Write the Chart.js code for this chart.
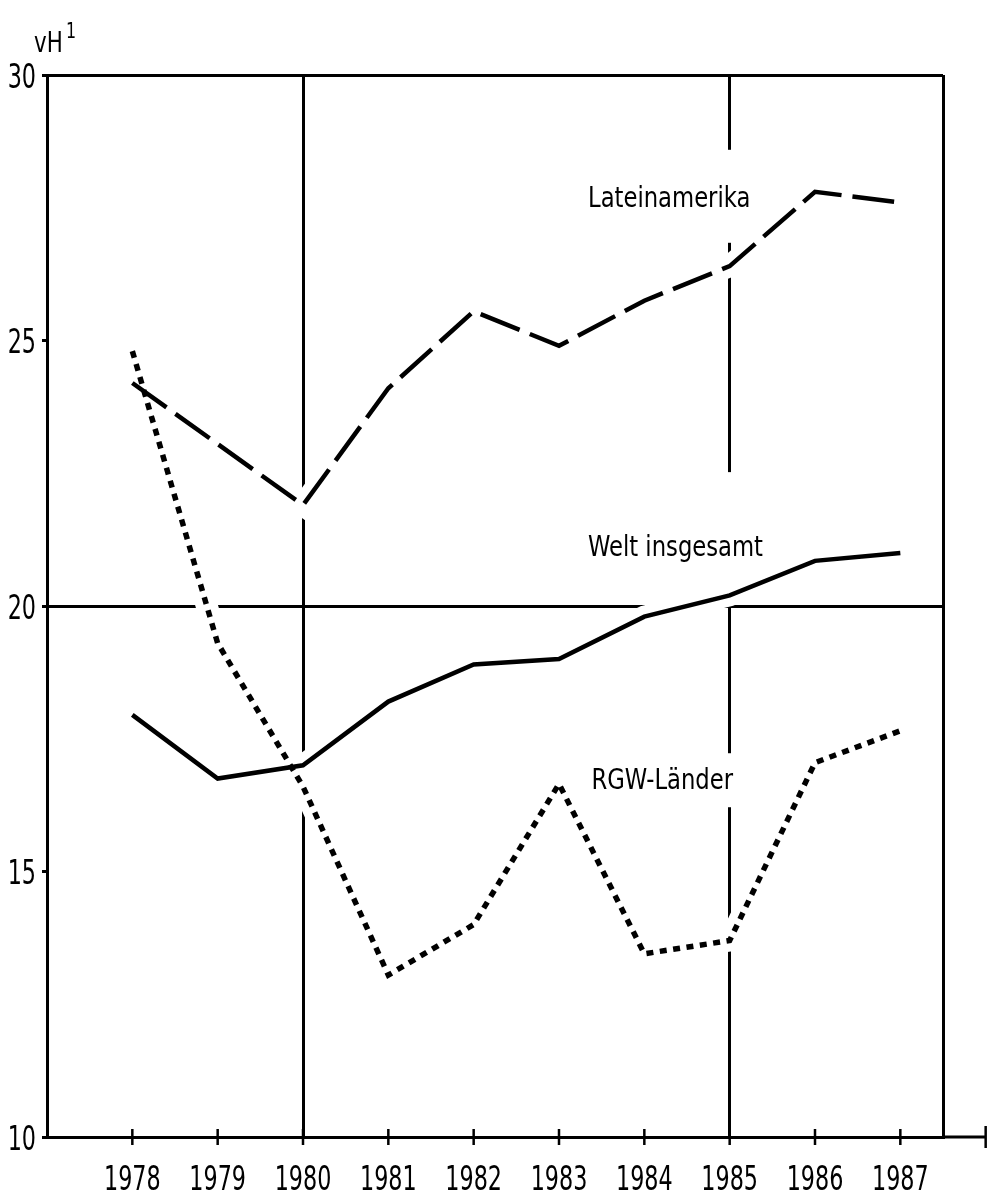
<!DOCTYPE html>
<html>
<head>
<meta charset="utf-8">
<title>vH - Lateinamerika, Welt insgesamt, RGW-Länder</title>
<script src="https://cdn.jsdelivr.net/npm/chart.js@4.4.0/dist/chart.umd.min.js"></script>
<style>
    body { margin: 0; background: #fff; }
    #wrap { width: 992px; height: 1200px; }
</style>
</head>
<body>
<div id="wrap"><canvas id="chart" width="992" height="1200"></canvas></div>
<script>
// values (vH)
var years = [1978, 1979, 1980, 1981, 1982, 1983, 1984, 1985, 1986, 1987];
var lateinamerika = [24.2, 23.05, 21.9, 24.1, 25.55, 24.9, 25.75, 26.4, 27.8, 27.6];
var welt = [17.95, 16.75, 17.0, 18.2, 18.9, 19.0, 19.8, 20.2, 20.85, 21.0];
var rgw = [24.8, 19.3, 16.6, 13.05, 14.0, 16.65, 13.45, 13.7, 17.05, 17.65];

var yTicks = [10, 15, 20, 25, 30];
var yGridAt = [20, 30];
var xGridAt = [1980, 1985, 1987.5];

var FONT = "'DejaVu Sans Condensed', 'DejaVu Sans', sans-serif";

function points(vals) {
    return years.map(function (y, i) { return { x: y, y: vals[i] }; });
}

// series names drawn inside the plot, anchored in data units
var seriesLabels = [
    { text: 'Lateinamerika', x: 1983.34, y: 27.65, padTop: 50, padBottom: 43 },
    { text: 'Welt insgesamt', x: 1983.34, y: 21.09, padTop: 76, padBottom: 40 },
    { text: 'RGW-Länder', x: 1983.38, y: 16.7, padTop: 28, padBottom: 26 }
];

// the original lettering is tall and narrow, so squeeze it sideways
function drawText(ctx, text, x, y, size, align, sx) {
    ctx.save();
    ctx.font = size + 'px ' + FONT;
    ctx.textAlign = align;
    ctx.translate(x, y);
    ctx.scale(sx, 1);
    ctx.fillText(text, 0, 0);
    ctx.restore();
}

var extras = {
    id: 'extras',
    beforeDatasetsDraw: function (chart) {
        // white boxes behind the labels cut the grid lines
        var ctx = chart.ctx, xs = chart.scales.x, ys = chart.scales.y;
        ctx.save();
        ctx.font = '29px ' + FONT;
        ctx.fillStyle = '#fff';
        seriesLabels.forEach(function (l) {
            var px = xs.getPixelForValue(l.x), py = ys.getPixelForValue(l.y);
            var w = ctx.measureText(l.text).width * 0.87;
            ctx.fillRect(px - 8, py - l.padTop, w + 16, l.padTop + l.padBottom);
        });
        ctx.restore();
    },
    afterDraw: function (chart) {
        var ctx = chart.ctx, xs = chart.scales.x, ys = chart.scales.y;
        var area = chart.chartArea;
        ctx.save();
        ctx.fillStyle = '#000';
        ctx.textBaseline = 'middle';
        seriesLabels.forEach(function (l) {
            drawText(ctx, l.text, xs.getPixelForValue(l.x), ys.getPixelForValue(l.y), 29, 'left', 0.87);
        });

        // tick labels
        years.forEach(function (yr) {
            drawText(ctx, String(yr), xs.getPixelForValue(yr), area.bottom + 44, 33, 'center', 0.75);
        });
        yTicks.forEach(function (v) {
            drawText(ctx, String(v), 36, ys.getPixelForValue(v) + 4, 33, 'right', 0.75);
        });

        // axis unit
        ctx.textBaseline = 'alphabetic';
        drawText(ctx, 'vH', 34, 52, 28, 'left', 0.85);
        drawText(ctx, '1', 66, 38, 22, 'left', 0.8);

        // x axis runs on past the frame, ticks cross the line
        ctx.strokeStyle = '#000';
        ctx.lineWidth = 3;
        var end = xs.getPixelForValue(1988);
        ctx.beginPath();
        ctx.moveTo(area.right, area.bottom);
        ctx.lineTo(end, area.bottom);
        ctx.stroke();
        ctx.lineWidth = 2.5;
        years.concat([1988]).forEach(function (yr) {
            var px = xs.getPixelForValue(yr);
            var h = yr === 1988 ? 11 : 8;
            ctx.beginPath();
            ctx.moveTo(px, area.bottom - h);
            ctx.lineTo(px, area.bottom + h);
            ctx.stroke();
        });
        ctx.restore();
    }
};

var halo = { borderColor: '#fff', borderWidth: 22, pointRadius: 0, order: 5 };

new Chart(document.getElementById('chart'), {
    type: 'line',
    data: {
        datasets: [
            { label: 'Lateinamerika', data: points(lateinamerika), borderColor: '#000', borderWidth: 4.5,
              borderDash: [42, 11], pointRadius: 0, order: 1 },
            { label: 'Welt insgesamt', data: points(welt), borderColor: '#000', borderWidth: 4.5,
              pointRadius: 0, order: 1 },
            { label: 'RGW-Länder', data: points(rgw), borderColor: '#000', borderWidth: 5.5,
              borderDash: [7, 6.5], pointRadius: 0, order: 1 },
            Object.assign({ data: points(lateinamerika) }, halo),
            Object.assign({ data: points(welt) }, halo),
            Object.assign({ data: points(rgw) }, halo)
        ]
    },
    options: {
        responsive: false,
        animation: false,
        devicePixelRatio: 1,
        layout: { padding: { top: 75, right: 49, left: 0, bottom: 0 } },
        plugins: { legend: { display: false }, tooltip: { enabled: false } },
        scales: {
            x: {
                type: 'linear',
                min: 1977,
                max: 1987.5,
                afterBuildTicks: function (s) {
                    s.ticks = [1977].concat(years, [1987.5]).map(function (v) { return { value: v }; });
                },
                afterFit: function (s) { s.height = 63; },
                grid: {
                    drawTicks: false,
                    lineWidth: 3,
                    color: function (c) {
                        return c.tick && xGridAt.indexOf(c.tick.value) >= 0 ? '#000' : 'rgba(0,0,0,0)';
                    }
                },
                border: { display: true, color: '#000', width: 3 },
                ticks: { display: false }
            },
            y: {
                min: 10,
                max: 30,
                afterBuildTicks: function (s) {
                    s.ticks = yTicks.map(function (v) { return { value: v }; });
                },
                afterFit: function (s) { s.width = 47; },
                grid: {
                    lineWidth: 3,
                    tickLength: 5,
                    tickColor: '#000',
                    color: function (c) {
                        return c.tick && yGridAt.indexOf(c.tick.value) >= 0 ? '#000' : 'rgba(0,0,0,0)';
                    }
                },
                border: { display: true, color: '#000', width: 3 },
                ticks: { display: false }
            }
        }
    },
    plugins: [extras]
});
</script>
</body>
</html>
